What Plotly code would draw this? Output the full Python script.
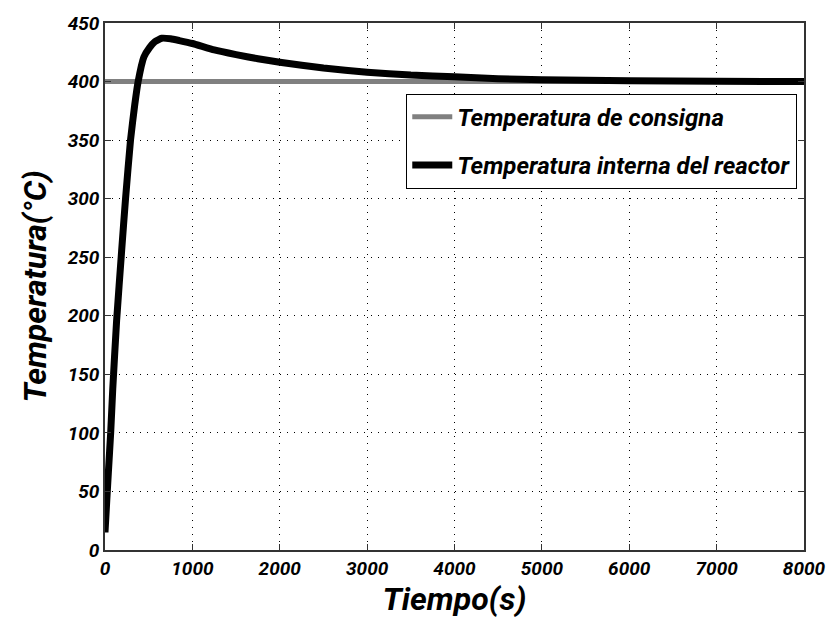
import plotly.graph_objects as go

# Data
time_s = [0, 20, 40, 65, 89, 133, 190, 235, 292, 340, 379, 445, 510, 570, 650, 750,
          850, 1000, 1250, 1500, 1750, 2000, 2500, 3000, 3500, 4000, 4500, 5000,
          6000, 7000, 8000]
temp_reactor = [15, 42, 68, 100, 138, 196, 255, 300, 350, 380, 400, 421, 429, 434, 437, 436.5,
                435, 432.5, 427, 423, 419.5, 416.5, 411.5, 408, 405.5, 404, 402.5, 401.5,
                400.6, 400.2, 400]
setpoint_t = [0, 8000]
setpoint_v = [400, 400]

x_ticks = [0, 1000, 2000, 3000, 4000, 5000, 6000, 7000, 8000]
y_ticks = [0, 50, 100, 150, 200, 250, 300, 350, 400, 450]

FONT = "Roboto, Liberation Sans Narrow, DejaVu Sans, sans-serif"

fig = go.Figure()
fig.add_trace(go.Scatter(x=setpoint_t, y=setpoint_v, mode="lines",
                         name="Temperatura de consigna", legendgroup="a",
                         line=dict(color="#808080", width=5)))
fig.add_trace(go.Scatter(x=time_s, y=temp_reactor, mode="lines",
                         name="Temperatura interna del reactor", legendgroup="b",
                         line=dict(color="black", width=7, shape="spline", smoothing=0.4)))

axis_common = dict(
    showgrid=True, gridcolor="black", griddash="1px,6px", gridwidth=1,
    showline=True, linecolor="#333333", linewidth=1.5, mirror="ticks",
    ticks="inside", ticklen=6, tickcolor="#333333", zeroline=False,
    tickfont=dict(family=FONT, size=19, color="black", style="italic", weight="bold"),
)

fig.update_layout(
    width=838, height=634,
    margin=dict(l=105, r=30, t=19, b=84),
    paper_bgcolor="white", plot_bgcolor="white",
    xaxis=dict(range=[0, 8000], tickvals=x_ticks, ticktext=[str(v) for v in x_ticks],
               title=dict(text="Tiempo(s)", standoff=6,
                          font=dict(family=FONT, size=32, color="black", style="italic", weight="bold")),
               **axis_common),
    yaxis=dict(range=[0, 450], tickvals=y_ticks, ticktext=[str(v) for v in y_ticks],
               title=dict(text="Temperatura(°C)", standoff=12,
                          font=dict(family=FONT, size=32, color="black", style="italic", weight="bold")),
               **axis_common),
    legend=dict(x=0.431, y=0.866, xanchor="left", yanchor="top",
                bgcolor="white", bordercolor="black", borderwidth=1,
                font=dict(family=FONT, size=24, color="black", style="italic", weight="bold"),
                itemwidth=40, tracegroupgap=14),
    showlegend=True,
)

fig.write_html("out.html")
